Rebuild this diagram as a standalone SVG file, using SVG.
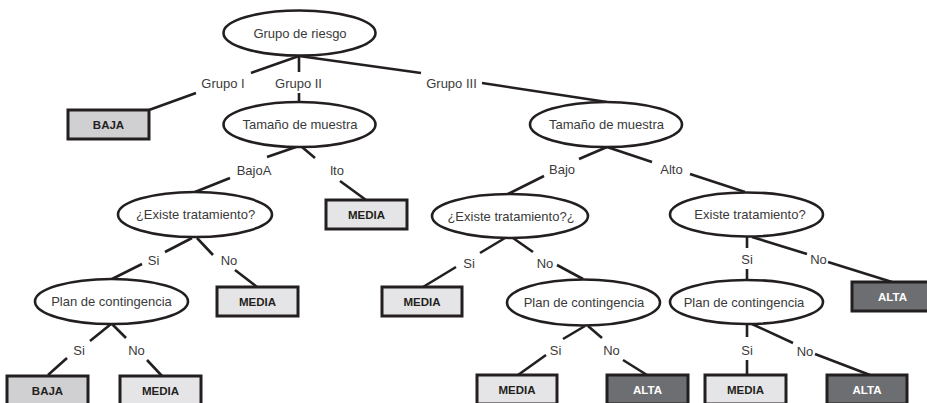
<svg xmlns="http://www.w3.org/2000/svg" width="927" height="403" viewBox="0 0 927 403">
<style>
.n{fill:#fff;stroke:#231f20;stroke-width:2.6}
.b{stroke:#231f20;stroke-width:3}
.baja{fill:#d0d0d2}
.media{fill:#e5e5e7}
.alta{fill:#6d6e71}
.t{font-family:"Liberation Sans",Arial,sans-serif;font-size:13px;fill:#3a3a3a;text-anchor:middle}
.bt{font-family:"Liberation Sans",Arial,sans-serif;font-size:11.5px;font-weight:bold;fill:#231f20;text-anchor:middle}
.wt{fill:#fff}
.c line{stroke:#231f20;stroke-width:2.6;fill:none}
</style>
<rect width="927" height="403" fill="#fff"/>
<g class="c" id="connectors">
<line x1="299" y1="56" x2="251" y2="73"/>
<line x1="196" y1="93" x2="149" y2="110"/>
<line x1="299" y1="56" x2="299" y2="72"/>
<line x1="299" y1="93" x2="299" y2="103"/>
<line x1="299" y1="56" x2="421" y2="73"/>
<line x1="482" y1="83" x2="607" y2="102"/>
<line x1="296" y1="147" x2="267" y2="157"/>
<line x1="230" y1="178" x2="195" y2="192"/>
<line x1="302" y1="147" x2="315" y2="158"/>
<line x1="340" y1="181" x2="366" y2="200"/>
<line x1="192" y1="238" x2="165" y2="252"/>
<line x1="142" y1="264" x2="112" y2="279"/>
<line x1="197" y1="238" x2="213" y2="255"/>
<line x1="235" y1="270" x2="257" y2="287"/>
<line x1="111" y1="324" x2="90" y2="341"/>
<line x1="67" y1="358" x2="48" y2="375"/>
<line x1="112" y1="324" x2="126" y2="338"/>
<line x1="147" y1="360" x2="162" y2="376"/>
<line x1="607" y1="147" x2="579" y2="159"/>
<line x1="544" y1="176" x2="508" y2="194"/>
<line x1="607" y1="147" x2="652" y2="162"/>
<line x1="690" y1="174" x2="745" y2="192"/>
<line x1="505" y1="238" x2="480" y2="253"/>
<line x1="456" y1="267" x2="423" y2="287"/>
<line x1="513" y1="238" x2="533" y2="252"/>
<line x1="557" y1="265" x2="583" y2="279"/>
<line x1="585" y1="326" x2="563" y2="339"/>
<line x1="546" y1="355" x2="518" y2="375"/>
<line x1="588" y1="326" x2="602" y2="338"/>
<line x1="623" y1="360" x2="647" y2="375"/>
<line x1="747" y1="237" x2="747" y2="248"/>
<line x1="747" y1="269" x2="747" y2="280"/>
<line x1="752" y1="237" x2="807" y2="254"/>
<line x1="828" y1="262" x2="892" y2="282"/>
<line x1="747" y1="324" x2="747" y2="337"/>
<line x1="747" y1="360" x2="747" y2="375"/>
<line x1="752" y1="324" x2="793" y2="343"/>
<line x1="815" y1="354" x2="870" y2="375"/>
</g>
<g id="edge-labels">
<text class="t" x="223" y="88">Grupo I</text>
<text class="t" x="298.5" y="88">Grupo II</text>
<text class="t" x="451.5" y="88">Grupo III</text>
<text class="t" x="254" y="174.5">BajoA</text>
<text class="t" x="337" y="174.5">lto</text>
<text class="t" x="153.5" y="264.5">Si</text>
<text class="t" x="229" y="264.5">No</text>
<text class="t" x="79" y="355">Si</text>
<text class="t" x="136.5" y="355">No</text>
<text class="t" x="562" y="174">Bajo</text>
<text class="t" x="671.5" y="174">Alto</text>
<text class="t" x="469" y="267.5">Si</text>
<text class="t" x="545" y="267.5">No</text>
<text class="t" x="555.5" y="354.5">Si</text>
<text class="t" x="611.5" y="354.5">No</text>
<text class="t" x="747" y="263.5">Si</text>
<text class="t" x="818.5" y="263.5">No</text>
<text class="t" x="747" y="354.5">Si</text>
<text class="t" x="805" y="355.5">No</text>
</g>
<g id="root"><ellipse class="n" cx="299.5" cy="33" rx="76" ry="22.5"/><text class="t" x="300" y="37.5">Grupo de riesgo</text></g>
<g id="baja1"><rect class="b baja" x="68" y="110" width="81" height="29"/><text class="bt" x="108.5" y="129">BAJA</text></g>
<g id="tam1"><ellipse class="n" cx="299.5" cy="124.5" rx="76" ry="22.5"/><text class="t" x="300" y="129">Tamaño de muestra</text></g>
<g id="tam2"><ellipse class="n" cx="606" cy="124.5" rx="76" ry="22.5"/><text class="t" x="606.5" y="129">Tamaño de muestra</text></g>
<g id="ex1"><ellipse class="n" cx="195" cy="214.5" rx="77" ry="22.5"/><text class="t" x="195.5" y="219">¿Existe tratamiento?</text></g>
<g id="media1"><rect class="b media" x="326" y="200" width="81" height="29"/><text class="bt" x="366.5" y="219">MEDIA</text></g>
<g id="ex2"><ellipse class="n" cx="510" cy="216" rx="78" ry="22"/><text class="t" x="511" y="220.5">¿Existe tratamiento?¿</text></g>
<g id="ex3"><ellipse class="n" cx="746.5" cy="214.5" rx="76.5" ry="22"/><text class="t" x="750" y="219">Existe tratamiento?</text></g>
<g id="plan1"><ellipse class="n" cx="111.5" cy="301.5" rx="76.5" ry="22.5"/><text class="t" x="111.5" y="306">Plan de contingencia</text></g>
<g id="media2"><rect class="b media" x="217" y="287" width="81" height="29"/><text class="bt" x="257.5" y="306">MEDIA</text></g>
<g id="media3"><rect class="b media" x="382" y="287" width="80" height="29"/><text class="bt" x="422" y="306">MEDIA</text></g>
<g id="plan2"><ellipse class="n" cx="583.5" cy="302.5" rx="76.5" ry="23"/><text class="t" x="584" y="307">Plan de contingencia</text></g>
<g id="plan3"><ellipse class="n" cx="746.5" cy="302" rx="76.5" ry="22"/><text class="t" x="744" y="306.5">Plan de contingencia</text></g>
<g id="alta1"><rect class="b alta" x="852" y="282" width="81" height="29"/><text class="bt wt" x="892.5" y="301">ALTA</text></g>
<g id="baja2"><rect class="b baja" x="7" y="376" width="81" height="29"/><text class="bt" x="47.5" y="395">BAJA</text></g>
<g id="media4"><rect class="b media" x="120" y="376" width="81" height="29"/><text class="bt" x="160.5" y="395">MEDIA</text></g>
<g id="media5"><rect class="b media" x="477" y="375" width="80" height="29"/><text class="bt" x="517" y="394">MEDIA</text></g>
<g id="alta2"><rect class="b alta" x="607" y="375" width="81" height="29"/><text class="bt wt" x="647.5" y="394">ALTA</text></g>
<g id="media6"><rect class="b media" x="705" y="375" width="81" height="29"/><text class="bt" x="745.5" y="394">MEDIA</text></g>
<g id="alta3"><rect class="b alta" x="827" y="375" width="80" height="29"/><text class="bt wt" x="867" y="394">ALTA</text></g>
</svg>
